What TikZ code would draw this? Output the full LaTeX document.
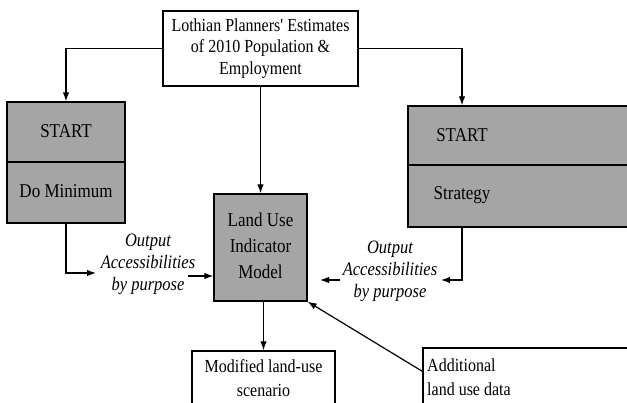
\documentclass[tikz,border=0pt]{standalone}
\usepackage{fontspec}
\usepackage{graphicx}
\setmainfont{Liberation Serif}
\usetikzlibrary{arrows.meta,calc}
\definecolor{boxgray}{HTML}{A5A5A5}
\newcommand\tallc[1]{\scalebox{1}[1.15]{\begin{tabular}{@{}c@{}}#1\end{tabular}}}
\newcommand\talll[1]{\scalebox{1}[1.15]{\begin{tabular}{@{}l@{}}#1\end{tabular}}}
\begin{document}
\begin{tikzpicture}[x=1pt,y=-1pt,
  box/.style={draw,line width=1.3pt,inner sep=0pt},
  gbox/.style={box,fill=boxgray},
  lbl/.style={font=\fontsize{16}{18.7}\selectfont,inner sep=0pt},
  big/.style={font=\fontsize{17}{22.6}\selectfont,inner sep=0pt},
  ital/.style={font=\fontsize{16.5}{19.1}\selectfont\itshape,inner sep=0pt},
  low/.style={font=\fontsize{16}{20.9}\selectfont,inner sep=0pt},
  arr/.style={-{Latex[length=9pt,width=6.5pt]},line width=1.2pt}]
\useasboundingbox (0,0) rectangle (627,402);
\clip (0,0) rectangle (627,402);
% top box
\node[box,minimum width=195pt,minimum height=75pt,lbl] (top) at (260.5,48.5)
  {\tallc{Lothian Planners\textquotesingle\ Estimates\\of 2010 Population \&\\Employment}};
% left boxes
\node[gbox,minimum width=118pt,minimum height=60pt,big] (ls) at (66,132) {\tallc{START}};
\node[gbox,minimum width=118pt,minimum height=61pt,big] (ld) at (66,192.5) {\tallc{Do Minimum}};
% right boxes (cut by the edge)
\node[gbox,minimum width=240pt,minimum height=59pt] (rs) at (528,135.5) {};
\node[gbox,minimum width=240pt,minimum height=62pt] (rd) at (528,196) {};
\node[big] (rst) at (462,136) {\tallc{START}};
\node[big] (rdt) at (462,194) {\tallc{Strategy}};
% land use model
\node[gbox,minimum width=93pt,minimum height=107pt,big] (lu) at (260.5,247.5)
  {\tallc{Land Use\\Indicator\\Model}};
% output labels
\node[ital] (lo) at (148,264) {\tallc{Output\\Accessibilities\\by purpose}};
\node[ital] (ro) at (390,271) {\tallc{Output\\Accessibilities\\by purpose}};
% bottom boxes
\node[box,minimum width=143pt,minimum height=70pt] (mod) at (263.5,386) {};
\node[low] (modt) at (263.5,380) {\tallc{Modified land-use\\scenario}};
\node[box,minimum width=230pt,minimum height=70pt] (add) at (538,383) {};
\node[low,anchor=west] (addt) at (427,379) {\talll{Additional\\land use data}};
% connectors
\draw[arr] (top.west) -| (ls.north);
\draw[arr] (top.east) -| (rst |- rs.north);
\draw[arr] (top.south) -- (lu.north);
\coordinate (lo1) at (96,273);
\draw[arr] (ld.south) |- (lo1);
\coordinate (lo2) at (188,276);
\draw[arr] (lo2) -- (lu.west |- lo2);
\coordinate (ro1) at (441,280);
\draw[arr] (rdt |- rd.south) |- (ro1);
\coordinate (ro2) at (340,280);
\coordinate (ro3) at (320,280);
\draw[arr] (ro2) -- (ro3);
\draw[arr] (mod.north |- lu.south) -- (mod.north);
\draw[arr] ($(add.north west)+(0,24)$) -- (lu.south east);
\end{tikzpicture}
\end{document}
